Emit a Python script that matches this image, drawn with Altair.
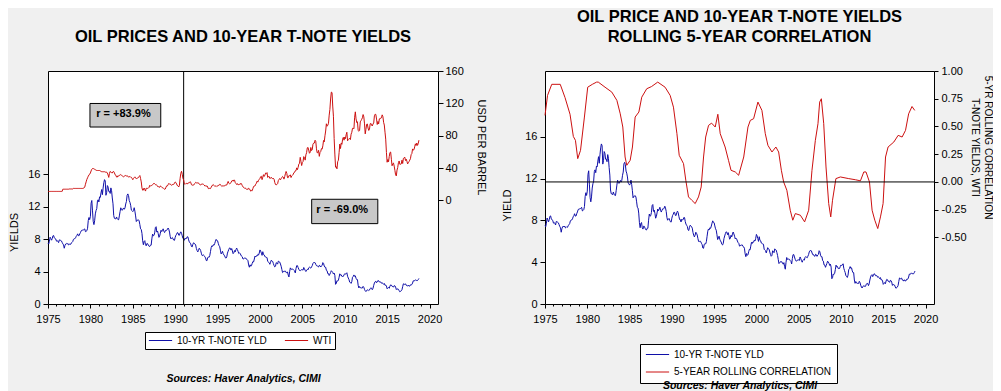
import altair as alt
import pandas as pd

FONT = "Liberation Sans"
BLUE = "#1010a8"
RED = "#cc1010"

# ---------------- data (monthly, Jan 1975 .. Oct 2018) ----------------
yield_10y = [
    7.50, 7.39, 7.73, 8.23, 8.06, 7.86, 8.06, 8.40, 8.43, 8.14, 8.05, 8.00,   # 1975
    7.74, 7.79, 7.73, 7.56, 7.90, 7.86, 7.83, 7.77, 7.59, 7.41, 7.29, 6.87,   # 1976
    7.21, 7.39, 7.46, 7.37, 7.46, 7.28, 7.33, 7.40, 7.34, 7.52, 7.58, 7.69,   # 1977
    7.96, 8.03, 8.04, 8.15, 8.35, 8.46, 8.64, 8.41, 8.42, 8.64, 8.81, 9.01,   # 1978
    9.10, 9.10, 9.12, 9.18, 9.25, 8.91, 8.95, 9.03, 9.33, 10.30, 10.65, 10.39,  # 1979
    10.80, 12.41, 12.75, 11.47, 10.18, 9.78, 10.25, 11.10, 11.51, 11.75, 12.68, 12.84,  # 1980
    12.57, 13.19, 13.12, 13.68, 14.10, 13.47, 14.28, 14.94, 15.32, 15.15, 13.39, 13.72,  # 1981
    14.59, 14.43, 13.86, 13.87, 13.62, 14.30, 13.95, 13.06, 12.34, 10.91, 10.55, 10.54,  # 1982
    10.46, 10.72, 10.51, 10.40, 10.38, 10.85, 11.38, 11.85, 11.65, 11.54, 11.69, 11.83,  # 1983
    11.67, 11.84, 12.32, 12.63, 13.41, 13.56, 13.36, 12.72, 12.52, 12.16, 11.57, 11.50,  # 1984
    11.38, 11.51, 11.86, 11.43, 10.85, 10.16, 10.31, 10.33, 10.37, 10.24, 9.78, 9.26,   # 1985
    9.19, 8.70, 7.78, 7.30, 7.71, 7.80, 7.30, 7.17, 7.45, 7.43, 7.25, 7.11,   # 1986
    7.08, 7.25, 7.25, 8.02, 8.61, 8.40, 8.45, 8.76, 9.42, 9.52, 8.86, 8.99,   # 1987
    8.67, 8.21, 8.37, 8.72, 9.09, 8.92, 9.06, 9.26, 8.98, 8.80, 8.96, 9.11,   # 1988
    9.09, 9.17, 9.36, 9.18, 8.86, 8.28, 8.02, 8.11, 8.19, 8.01, 7.87, 7.84,   # 1989
    8.21, 8.47, 8.59, 8.79, 8.76, 8.48, 8.47, 8.75, 8.89, 8.72, 8.39, 8.08,   # 1990
    8.09, 7.85, 8.11, 8.04, 8.07, 8.28, 8.27, 7.90, 7.65, 7.53, 7.42, 7.09,   # 1991
    7.03, 7.34, 7.54, 7.48, 7.39, 7.26, 6.84, 6.59, 6.42, 6.59, 6.87, 6.77,   # 1992
    6.60, 6.26, 5.98, 5.97, 6.04, 5.96, 5.81, 5.68, 5.36, 5.33, 5.72, 5.77,   # 1993
    5.75, 5.97, 6.48, 6.97, 7.18, 7.10, 7.30, 7.24, 7.46, 7.74, 7.96, 7.81,   # 1994
    7.78, 7.47, 7.20, 7.06, 6.63, 6.17, 6.28, 6.49, 6.20, 6.04, 5.93, 5.71,   # 1995
    5.65, 5.81, 6.27, 6.51, 6.74, 6.91, 6.87, 6.64, 6.83, 6.53, 6.20, 6.30,   # 1996
    6.58, 6.42, 6.69, 6.89, 6.71, 6.49, 6.22, 6.30, 6.21, 6.03, 5.88, 5.81,   # 1997
    5.54, 5.57, 5.65, 5.64, 5.65, 5.50, 5.46, 5.34, 4.81, 4.53, 4.83, 4.65,   # 1998
    4.72, 5.00, 5.23, 5.18, 5.54, 5.90, 5.79, 5.94, 5.92, 6.11, 6.03, 6.28,   # 1999
    6.66, 6.52, 6.26, 5.99, 6.44, 6.10, 6.05, 5.83, 5.80, 5.74, 5.72, 5.24,   # 2000
    5.16, 5.10, 4.89, 5.14, 5.39, 5.28, 5.24, 4.97, 4.73, 4.57, 4.65, 5.09,   # 2001
    5.04, 4.91, 5.28, 5.21, 5.16, 4.93, 4.65, 4.26, 3.87, 3.94, 4.05, 4.03,   # 2002
    4.05, 3.90, 3.81, 3.96, 3.57, 3.33, 3.98, 4.45, 4.27, 4.29, 4.30, 4.27,   # 2003
    4.15, 4.08, 3.83, 4.35, 4.72, 4.73, 4.50, 4.28, 4.13, 4.10, 4.19, 4.23,   # 2004
    4.22, 4.17, 4.50, 4.34, 4.14, 4.00, 4.18, 4.26, 4.20, 4.46, 4.54, 4.47,   # 2005
    4.42, 4.57, 4.72, 4.99, 5.11, 5.11, 5.09, 4.88, 4.72, 4.73, 4.60, 4.56,   # 2006
    4.76, 4.72, 4.56, 4.69, 4.75, 5.10, 5.00, 4.67, 4.52, 4.53, 4.15, 4.10,   # 2007
    3.74, 3.74, 3.51, 3.68, 3.88, 4.10, 4.01, 3.89, 3.69, 3.81, 3.53, 2.42,   # 2008
    2.52, 2.87, 2.82, 2.93, 3.29, 3.72, 3.56, 3.59, 3.40, 3.39, 3.40, 3.59,   # 2009
    3.73, 3.69, 3.73, 3.85, 3.42, 3.20, 3.01, 2.70, 2.65, 2.54, 2.76, 3.29,   # 2010
    3.39, 3.58, 3.41, 3.46, 3.17, 3.00, 3.00, 2.30, 1.98, 2.15, 2.01, 1.98,   # 2011
    1.97, 1.97, 2.17, 2.05, 1.80, 1.62, 1.53, 1.68, 1.72, 1.75, 1.65, 1.72,   # 2012
    1.91, 1.98, 1.96, 1.76, 1.93, 2.30, 2.58, 2.74, 2.81, 2.62, 2.72, 2.90,   # 2013
    2.86, 2.71, 2.72, 2.71, 2.56, 2.60, 2.54, 2.42, 2.53, 2.30, 2.33, 2.21,   # 2014
    1.88, 1.98, 2.04, 1.94, 2.20, 2.36, 2.32, 2.17, 2.17, 2.07, 2.26, 2.24,   # 2015
    2.09, 1.78, 1.89, 1.81, 1.81, 1.64, 1.50, 1.56, 1.63, 1.76, 2.14, 2.49,   # 2016
    2.43, 2.42, 2.48, 2.30, 2.30, 2.19, 2.32, 2.21, 2.20, 2.36, 2.35, 2.40,   # 2017
    2.58, 2.86, 2.84, 2.87, 2.98, 2.91, 2.89, 2.89, 3.00, 3.15,               # 2018
]

wti = [
    11.16, 11.16, 11.16, 11.16, 11.16, 11.16, 11.16, 11.16, 11.16, 11.16, 11.16, 11.16,  # 1975
    11.16, 11.16, 11.16, 11.16, 11.16, 11.16, 11.16, 11.16, 11.16, 13.90, 13.90, 13.90,  # 1976
    13.90, 13.90, 13.90, 13.90, 13.90, 13.90, 14.20, 14.20, 14.20, 14.20, 14.20, 14.20,  # 1977
    14.85, 14.85, 14.85, 14.85, 14.85, 14.85, 14.85, 14.85, 14.85, 14.85, 14.85, 14.85,  # 1978
    14.85, 14.85, 15.10, 15.50, 16.50, 20.00, 23.00, 26.00, 28.00, 30.00, 31.50, 32.50,  # 1979
    34.00, 36.50, 38.50, 39.50, 39.50, 39.00, 38.50, 38.00, 37.50, 37.00, 37.00, 37.00,  # 1980
    37.00, 37.00, 36.50, 36.00, 35.50, 35.50, 35.50, 35.50, 35.50, 35.00, 35.00, 35.00,  # 1981
    33.85, 31.56, 28.48, 33.45, 35.93, 35.07, 34.16, 33.95, 35.63, 35.68, 34.15, 31.72,  # 1982
    31.21, 28.99, 28.81, 30.61, 30.00, 31.00, 31.66, 31.90, 31.11, 30.41, 29.84, 29.24,  # 1983
    29.97, 30.55, 30.85, 30.26, 30.49, 29.97, 28.81, 29.22, 29.66, 28.75, 28.54, 27.27,  # 1984
    25.63, 27.28, 28.24, 29.17, 27.50, 27.05, 27.32, 27.80, 28.25, 29.63, 30.80, 27.17,  # 1985
    22.93, 15.46, 12.61, 12.84, 15.38, 13.43, 11.58, 15.10, 14.87, 14.90, 15.22, 16.11,  # 1986
    18.65, 17.75, 18.30, 18.68, 19.44, 20.07, 21.34, 20.31, 19.53, 19.86, 18.85, 17.28,  # 1987
    17.13, 16.80, 16.20, 17.86, 17.42, 16.53, 15.50, 15.52, 14.54, 13.77, 14.14, 16.38,  # 1988
    18.02, 17.94, 19.48, 21.07, 20.12, 20.05, 19.78, 18.58, 19.59, 20.10, 19.86, 21.10,  # 1989
    22.86, 22.11, 20.39, 18.43, 18.20, 16.70, 18.45, 27.31, 33.51, 36.04, 32.33, 27.28,  # 1990
    25.23, 20.48, 19.90, 20.83, 21.23, 20.19, 21.40, 21.69, 21.89, 23.23, 22.46, 19.50,  # 1991
    18.79, 19.01, 18.92, 20.23, 20.98, 22.39, 21.78, 21.34, 21.88, 21.69, 20.34, 19.41,  # 1992
    19.03, 20.09, 20.32, 20.25, 19.95, 19.09, 17.89, 18.01, 17.50, 18.15, 16.61, 14.52,  # 1993
    15.03, 14.78, 14.68, 16.42, 17.89, 19.06, 19.66, 18.38, 17.45, 17.72, 18.07, 17.16,  # 1994
    18.04, 18.57, 18.54, 19.90, 19.74, 18.45, 17.33, 18.02, 18.23, 17.43, 17.99, 19.03,  # 1995
    18.86, 19.09, 21.33, 23.50, 21.17, 20.42, 21.30, 21.90, 23.97, 24.88, 23.71, 25.23,  # 1996
    25.13, 22.18, 20.97, 19.70, 20.82, 19.26, 19.66, 19.95, 19.80, 21.33, 20.19, 18.33,  # 1997
    16.72, 16.06, 15.12, 15.35, 14.91, 13.72, 14.17, 13.47, 15.03, 14.46, 13.00, 11.35,  # 1998
    12.52, 12.01, 14.68, 17.31, 17.72, 17.92, 20.10, 21.28, 23.80, 22.69, 25.00, 26.10,  # 1999
    27.26, 29.37, 29.84, 25.72, 28.79, 31.82, 29.70, 31.26, 33.88, 33.11, 34.42, 28.44,  # 2000
    29.59, 29.61, 27.24, 27.49, 28.63, 27.60, 26.43, 27.37, 26.20, 22.17, 19.64, 19.39,  # 2001
    19.72, 20.72, 24.53, 26.18, 27.04, 25.52, 26.97, 28.39, 29.66, 28.84, 26.35, 29.46,  # 2002
    32.95, 35.83, 33.51, 28.17, 28.11, 30.66, 30.76, 31.57, 28.31, 30.34, 31.11, 32.13,  # 2003
    34.31, 34.69, 36.74, 36.75, 40.28, 38.03, 40.78, 44.90, 45.94, 53.28, 48.47, 43.15,  # 2004
    46.84, 48.15, 54.19, 52.98, 49.83, 56.35, 59.00, 64.99, 65.59, 62.26, 58.32, 59.41,  # 2005
    65.49, 61.63, 62.69, 69.44, 70.84, 70.95, 74.41, 73.04, 63.80, 58.89, 59.08, 61.96,  # 2006
    54.51, 59.28, 60.44, 63.98, 63.45, 67.49, 74.12, 72.36, 79.92, 85.80, 94.77, 91.69,  # 2007
    92.97, 95.39, 105.45, 112.58, 125.40, 133.88, 133.37, 116.67, 104.11, 76.61, 57.31, 41.12,  # 2008
    41.71, 39.09, 47.94, 49.65, 59.03, 69.64, 64.15, 71.05, 69.41, 75.72, 77.99, 74.47,  # 2009
    78.33, 76.39, 81.20, 84.29, 73.74, 75.34, 76.32, 76.60, 75.24, 81.89, 84.25, 89.15,  # 2010
    89.17, 88.58, 102.86, 109.53, 100.90, 96.26, 97.30, 86.33, 85.52, 86.32, 97.16, 98.56,  # 2011
    100.27, 102.20, 106.16, 103.32, 94.66, 82.30, 87.90, 94.13, 94.51, 89.49, 86.53, 87.86,  # 2012
    94.76, 95.31, 92.94, 92.02, 94.51, 95.77, 104.67, 106.57, 106.29, 100.54, 93.86, 97.63,  # 2013
    94.62, 100.82, 100.80, 102.07, 102.18, 105.79, 103.59, 96.54, 93.21, 84.40, 75.79, 59.29,  # 2014
    47.22, 50.58, 47.82, 54.45, 59.27, 59.82, 50.90, 42.87, 45.48, 46.22, 42.44, 37.19,  # 2015
    31.68, 30.32, 37.55, 40.75, 46.71, 48.76, 44.65, 44.72, 45.18, 49.78, 45.66, 51.97,  # 2016
    52.50, 53.47, 49.33, 51.06, 48.48, 45.18, 46.63, 48.04, 49.82, 51.58, 56.64, 57.88,  # 2017
    63.70, 62.23, 62.73, 66.25, 69.98, 67.87, 70.98, 68.06, 70.23, 74.50,                # 2018
]

# rolling 5-year correlation
corr_t = [1975.0, 1975.3, 1975.8, 1976.8, 1977.37, 1977.96, 1978.35, 1978.6, 1978.87, 1979.2,
          1979.66, 1980.05, 1980.6, 1981.1, 1981.3, 1982.1, 1982.9, 1983.5, 1983.9, 1984.2,
          1984.47, 1984.67, 1985.07, 1985.34, 1985.66, 1986.1, 1986.44, 1987.03, 1987.6, 1988.33,
          1989.2, 1989.8, 1990.19, 1990.6, 1990.87, 1991.38, 1991.65, 1991.97, 1992.36, 1992.76,
          1993.15, 1993.47, 1993.75, 1994.0, 1994.34, 1994.7, 1995.13, 1995.44, 1995.72, 1996.3,
          1996.7, 1997.0, 1997.5, 1997.9, 1998.5, 1999.0, 1999.28, 1999.67, 2000.18, 2000.65,
          2001.05, 2001.36, 2001.84, 2002.3, 2002.63, 2002.95, 2003.22, 2003.6, 2004.0, 2004.3,
          2004.6, 2005.2, 2005.7, 2006.18, 2006.57, 2006.97, 2007.28, 2007.48, 2007.68, 2007.96,
          2008.23, 2008.55, 2008.79, 2009.0, 2009.4, 2009.93, 2010.92, 2011.7, 2012.3, 2012.7,
          2012.96, 2013.37, 2013.68, 2014.0, 2014.35, 2014.67, 2014.98, 2015.27, 2015.57, 2016.25,
          2016.76, 2017.23, 2017.63, 2018.0, 2018.4, 2018.72]
corr_v = [0.60, 0.78, 0.88, 0.88, 0.76, 0.61, 0.41, 0.375, 0.21, 0.285,
          0.585, 0.854, 0.88, 0.90, 0.90, 0.854, 0.81, 0.735, 0.614, 0.495,
          0.225, 0.15, 0.195, 0.315, 0.585, 0.63, 0.764, 0.84, 0.86, 0.90,
          0.854, 0.78, 0.674, 0.435, 0.24, 0.165, 0.015, -0.135, -0.165, -0.195,
          -0.135, -0.045, 0.225, 0.405, 0.51, 0.53, 0.495, 0.61, 0.435, 0.315,
          0.195, 0.105, 0.09, 0.06, 0.225, 0.495, 0.555, 0.57, 0.72, 0.645,
          0.435, 0.33, 0.27, 0.315, 0.27, 0.105, 0.0, -0.075, -0.255, -0.345,
          -0.285, -0.30, -0.36, -0.255, 0.105, 0.375, 0.525, 0.72, 0.75, 0.525,
          0.135, -0.195, -0.315, -0.165, 0.03, 0.045, 0.03, 0.02, 0.01, 0.09,
          0.09, 0.0, -0.255, -0.345, -0.42, -0.315, -0.195, 0.225, 0.315, 0.36,
          0.42, 0.405, 0.465, 0.614, 0.68, 0.645]

split_year = [1991.0]
anno_labels = ["r = +83.9%", "r = -69.0%"]
anno_x = [1983.9, 2009.7]
anno_y = [23.4, 11.55]
anno_x0 = [1979.95, 2006.1]
anno_x1 = [1988.3, 2013.9]
anno_y0 = [21.8, 9.9]
anno_y1 = [24.7, 12.9]
zero_line = [0.0]

year_ticks = list(range(1975, 2021))
S_YLD = "10-YR T-NOTE YLD"
S_WTI = "WTI"
S_COR = "5-YEAR ROLLING CORRELATION"

t = [1975 + i / 12 for i in range(len(yield_10y))]
df_y = pd.DataFrame({"t": t, "v": yield_10y, "series": S_YLD})
df_w = pd.DataFrame({"t": t[:len(wti)], "v": wti, "series": S_WTI})
df_c = pd.DataFrame({"t": corr_t, "v": corr_v, "series": S_COR})
df_split = pd.DataFrame({"t": split_year})
df_anno = pd.DataFrame({"t": anno_x, "v": anno_y, "label": anno_labels,
                        "x0": anno_x0, "x1": anno_x1, "y0": anno_y0, "y1": anno_y1})
df_zero = pd.DataFrame({"v": zero_line})

SOURCES = "Sources:  Haver Analytics, CIMI"


def x_axis(title_pad):
    return alt.Axis(values=year_ticks, format="d",
                    labelExpr="datum.value % 5 === 0 ? datum.label : ''",
                    tickSize={"condition": {"test": "datum.value % 5 === 0", "value": 4}, "value": 2},
                    labelPadding=5, labelFlush=False, labelOverlap=False, domain=False, grid=False,
                    title=SOURCES, titlePadding=title_pad, titleFontStyle="italic",
                    titleFontWeight="bold", titleFontSize=10.5, zindex=1)


XSCALE = alt.Scale(domain=[1975, 2021], nice=False, zero=False)


def legend(x, y, direction, pad, rowpad=0, colpad=10):
    return alt.Legend(title=None, orient="none", legendX=x, legendY=y, direction=direction,
                      symbolType="stroke", symbolSize=540, symbolStrokeWidth=1, clipHeight=11,
                      labelFont=FONT, labelFontSize=10, labelColor="black", labelLimit=300,
                      fillColor="white", strokeColor="black", padding=pad,
                      rowPadding=rowpad, columnPadding=colpad, labelOffset=4)


def panel_title(lines):
    return alt.TitleParams(text=lines, font=FONT, fontSize=16.5, fontWeight="bold",
                           lineHeight=20, offset=4, baseline="bottom", anchor="middle",
                           frame="group", color="black")


# ---------------- left panel ----------------
LX = alt.X("t:Q", scale=XSCALE, axis=x_axis(49))
L_YSCALE = alt.Scale(domain=[0, 28.7], nice=False, zero=False)
L_YAXIS = alt.Axis(values=[0, 4, 8, 12, 16], title="YIELDS", titlePadding=8, titleY=161,
                   tickSize=5, labelPadding=3, domain=False, grid=False,
                   titleFontWeight="normal", titleFontSize=11)
W_YSCALE = alt.Scale(domain=[-128, 160], nice=False, zero=False)
W_YAXIS = alt.Axis(orient="right", values=[0, 40, 80, 120, 160], title="USD PER BARREL",
                   titlePadding=12, titleY=76, tickSize=5, labelPadding=2, domain=False,
                   grid=False, titleFontWeight="normal", titleFontSize=11)
L_COLOR = alt.Color("series:N", scale=alt.Scale(domain=[S_YLD, S_WTI], range=[BLUE, RED]),
                    legend=legend(97, 261, "horizontal", 3, 0, 16))

blue_l = alt.Chart(df_y).mark_line(strokeWidth=1).encode(
    x=LX, y=alt.Y("v:Q", scale=L_YSCALE, axis=L_YAXIS), color=L_COLOR)
split_rule = alt.Chart(df_split).mark_rule(color="black", strokeWidth=1).encode(x=LX)
anno_box = alt.Chart(df_anno).mark_rect(fill="#c8c8c8", stroke="black", strokeWidth=1).encode(
    x=alt.X("x0:Q", scale=XSCALE, axis=x_axis(49)), x2="x1:Q",
    y=alt.Y("y0:Q", scale=L_YSCALE, axis=L_YAXIS), y2="y1:Q")
anno_text = alt.Chart(df_anno).mark_text(font=FONT, fontSize=11, fontWeight="bold",
                                         color="black").encode(
    x=LX, y=alt.Y("v:Q", scale=L_YSCALE, axis=L_YAXIS), text="label:N")
red_l = alt.Chart(df_w).mark_line(strokeWidth=1).encode(
    x=LX, y=alt.Y("v:Q", scale=W_YSCALE, axis=W_YAXIS), color=L_COLOR)

left = alt.layer(alt.layer(blue_l, split_rule, anno_box, anno_text), red_l).resolve_scale(
    y="independent").properties(
    width=390, height=233,
    title=panel_title([" ", "OIL PRICES AND 10-YEAR T-NOTE YIELDS"]))

# ---------------- right panel ----------------
RX = alt.X("t:Q", scale=XSCALE, axis=x_axis(56))
R_YSCALE = alt.Scale(domain=[0, 22.3], nice=False, zero=False)
R_YAXIS = alt.Axis(values=[0, 4, 8, 12, 16], title="YIELD", titlePadding=12, titleY=134,
                   tickSize=5, labelPadding=3, domain=False, grid=False,
                   titleFontWeight="normal", titleFontSize=11)
C_YSCALE = alt.Scale(domain=[-1.1, 1.0], nice=False, zero=False)
C_YAXIS = alt.Axis(orient="right", values=[-0.5, -0.25, 0, 0.25, 0.5, 0.75, 1.0], format=".2f",
                   labelExpr="replace(datum.label, '\u2212', '-')",
                   title=["5-YR ROLLING CORRELATION", "T-NOTE YIELDS, WTI"], titleLineHeight=13,
                   titlePadding=3, titleY=76, tickSize=4, labelPadding=3, domain=False,
                   grid=False, titleFontWeight="normal", titleFontSize=10)
R_COLOR = alt.Color("series:N", scale=alt.Scale(domain=[S_YLD, S_COR], range=[BLUE, RED]),
                    legend=legend(95, 273, "vertical", 5, 6.5, 10))

blue_r = alt.Chart(df_y).mark_line(strokeWidth=1).encode(
    x=RX, y=alt.Y("v:Q", scale=R_YSCALE, axis=R_YAXIS), color=R_COLOR)
red_r = alt.Chart(df_c).mark_line(strokeWidth=1).encode(
    x=RX, y=alt.Y("v:Q", scale=C_YSCALE, axis=C_YAXIS), color=R_COLOR)
zero_rule = alt.Chart(df_zero).mark_rule(color="black", strokeWidth=1).encode(
    y=alt.Y("v:Q", scale=C_YSCALE, axis=C_YAXIS))

right = alt.layer(blue_r, alt.layer(red_r, zero_rule)).resolve_scale(
    y="independent").properties(
    width=389, height=233,
    title=panel_title(["OIL PRICE AND 10-YEAR T-NOTE YIELDS", "ROLLING 5-YEAR CORRELATION"]))

chart = alt.hconcat(left, right, spacing=14).resolve_scale(color="independent").resolve_legend(
    color="independent").properties(padding=0).configure(
    background="#f0f0f0").configure_view(fill="white", stroke="black", strokeWidth=1).configure_axis(
    labelFont=FONT, labelFontSize=11, labelColor="black", titleFont=FONT, titleColor="black",
    tickColor="black", tickWidth=1)

chart.save("out.html", embed_options={"renderer": "svg", "actions": False})
